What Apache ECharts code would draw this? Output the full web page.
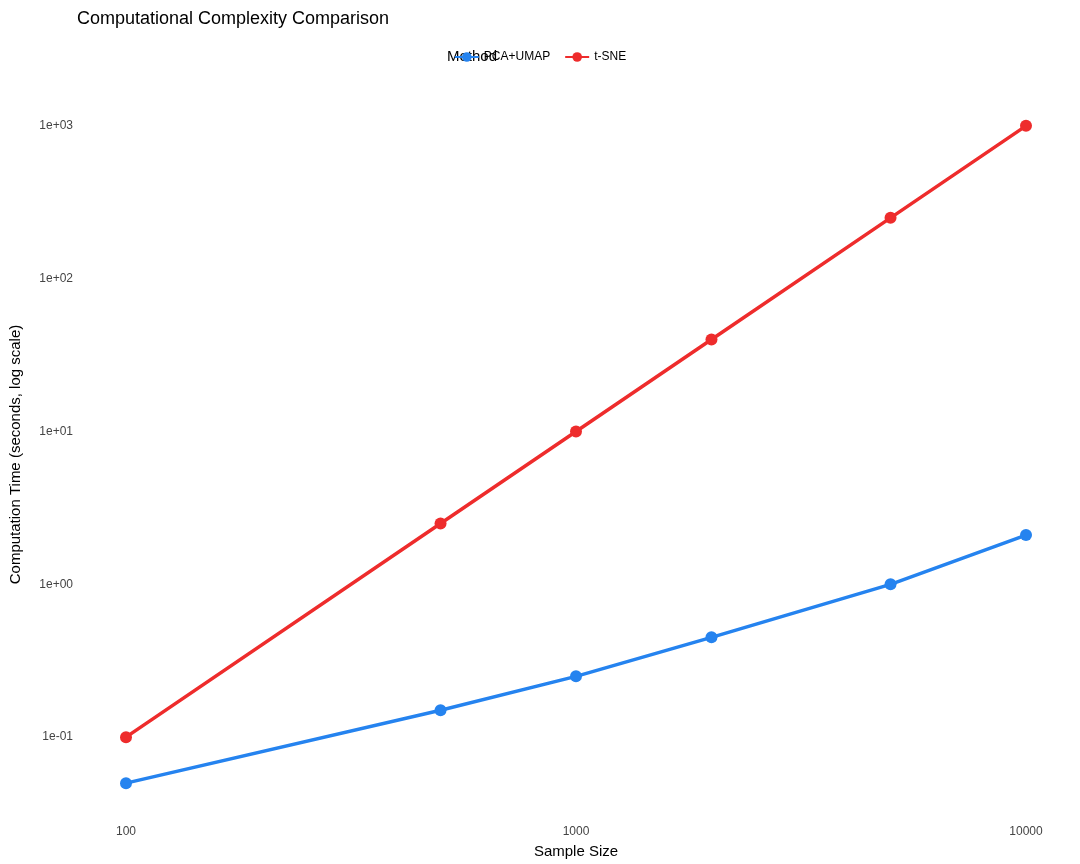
<!DOCTYPE html>
<html><head><meta charset="utf-8">
<script src="https://cdn.jsdelivr.net/npm/echarts@6/dist/echarts.min.js"></script>
<style>html,body{margin:0;padding:0;background:#fff}#c{width:1080px;height:864px}</style>
</head><body><div id="c"></div>
<script>
const sampleSizes = [100, 500, 1000, 2000, 5000, 10000];
const pcaUmap = [0.05, 0.15, 0.25, 0.45, 1.0, 2.1];
const tsne = [0.1, 2.5, 10, 40, 250, 1000];
const xTicks = [100, 1000, 10000];
const yTicks = [0.1, 1, 10, 100, 1000];
const yTickLabels = ['1e-01', '1e+00', '1e+01', '1e+02', '1e+03'];
const L = Math.log10;
const mk = ys => sampleSizes.map((x, i) => [L(x), L(ys[i])]);
const chart = echarts.init(document.getElementById('c'));
const font = 'Liberation Sans, Arial, sans-serif';
chart.setOption({
  backgroundColor: '#fff',
  animation: false,
  title: { text: 'Computational Complexity Comparison', left: 72, top: 5,
    textStyle: { fontFamily: font, fontSize: 18, fontWeight: 'normal', color: '#000' } },
  legend: { top: 46, left: 'center', itemWidth: 24, itemHeight: 12, itemGap: 14,
    textStyle: { fontFamily: font, fontSize: 12, color: '#000' },
    data: [{ name: 'PCA+UMAP' }, { name: 't-SNE' }] },
  graphic: [{ type: 'text', left: 447, top: 49, style: { text: 'Method', font: '15px ' + font, fill: '#000' } }],
  grid: { left: 73, right: 9, top: 93, bottom: 47 },
  xAxis: { type: 'value', min: 1.9, max: 4.1, name: 'Sample Size', nameLocation: 'middle', nameGap: 28,
    nameTextStyle: { fontFamily: font, fontSize: 15, color: '#000' },
    axisLine: { show: false }, axisTick: { show: false }, splitLine: { show: false },
    axisLabel: { customValues: xTicks.map(L), formatter: v => String(Math.round(Math.pow(10, v))),
      fontFamily: font, fontSize: 12, color: '#444', margin: 10 } },
  yAxis: { type: 'value', min: -1.516, max: 3.215, name: 'Computation Time (seconds, log scale)',
    nameLocation: 'middle', nameGap: 58, nameTextStyle: { fontFamily: font, fontSize: 15, color: '#000' },
    axisLine: { show: false }, axisTick: { show: false }, splitLine: { show: false },
    axisLabel: { customValues: yTicks.map(L), formatter: v => yTickLabels[yTicks.findIndex(t => Math.abs(L(t) - v) < 1e-6)] || '',
      fontFamily: font, fontSize: 12, color: '#444', margin: 8 } },
  series: [
    { name: 'PCA+UMAP', type: 'line', data: mk(pcaUmap), symbol: 'circle', symbolSize: 12,
      lineStyle: { width: 3.5, color: '#2583EF' }, itemStyle: { color: '#2583EF' } },
    { name: 't-SNE', type: 'line', data: mk(tsne), symbol: 'circle', symbolSize: 12,
      lineStyle: { width: 3.5, color: '#EE2C2C' }, itemStyle: { color: '#EE2C2C' } }
  ]
});
</script></body></html>
